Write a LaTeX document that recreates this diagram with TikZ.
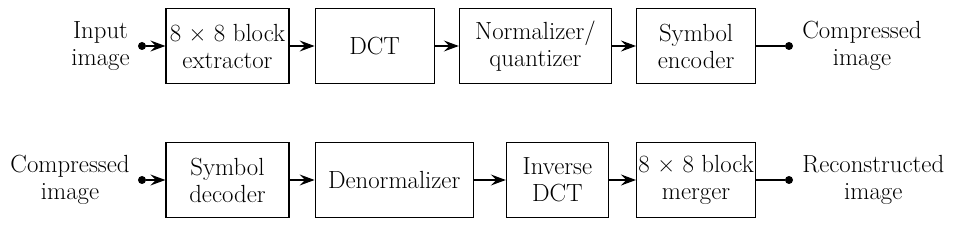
\documentclass[tikz,border=0pt]{standalone}
\usepackage{fontspec}
\usetikzlibrary{positioning,arrows.meta}

\begin{document}
\begin{tikzpicture}[
  x=1pt, y=1pt,
  node distance=25pt,
  every node/.style={font=\fontsize{24.8}{27}\selectfont, align=center, inner sep=0pt},
  blk/.style={draw, line width=1.2pt, minimum height=75pt},
  dot/.style={circle, fill, minimum size=8pt},
  arr/.style={-{Stealth[length=15pt,width=11pt,inset=5.5pt]}, line width=1.2pt},
  lin/.style={line width=1.2pt}
]
  \useasboundingbox (0,0) rectangle (953,233);

  % encoder chain
  \node[blk, minimum width=123pt] (extract) at (227.5,187) {8 × 8 block\\extractor};
  \node[blk, minimum width=119pt, right=25pt of extract] (dct) {DCT};
  \node[blk, minimum width=152pt, right=24pt of dct] (quant) {Normalizer/\\quantizer};
  \node[blk, minimum width=119pt, right=24pt of quant] (enc) {Symbol\\encoder};

  \node[dot] (inA) at (142,187) {};
  \node[dot] (outA) at (789,187) {};
  \node[left=8pt of inA] (inAlbl) {Input\\image};
  \node[right=9pt of outA] (outAlbl) {Compressed\\image};

  \draw[arr] (inA) -- (extract);
  \draw[arr] (extract) -- (dct);
  \draw[arr] (dct) -- (quant);
  \draw[arr] (quant) -- (enc);
  \draw[lin] (enc) -- (outA);

  % decoder chain
  \node[blk, minimum width=123pt] (dec) at (227.5,53) {Symbol\\decoder};
  \node[blk, minimum width=158pt, right=25pt of dec] (denorm) {Denormalizer};
  \node[blk, minimum width=102pt, right=32pt of denorm] (idct) {Inverse\\DCT};
  \node[blk, minimum width=119pt, right=27pt of idct] (merge) {8 × 8 block\\merger};

  \node[dot] (inB) at (142,53) {};
  \node[dot] (outB) at (789,53) {};
  \node[left=8pt of inB] (inBlbl) {Compressed\\image};
  \node[right=9pt of outB] (outBlbl) {Reconstructed\\image};

  \draw[arr] (inB) -- (dec);
  \draw[arr] (dec) -- (denorm);
  \draw[arr] (denorm) -- (idct);
  \draw[arr] (idct) -- (merge);
  \draw[lin] (merge) -- (outB);
\end{tikzpicture}
\end{document}
